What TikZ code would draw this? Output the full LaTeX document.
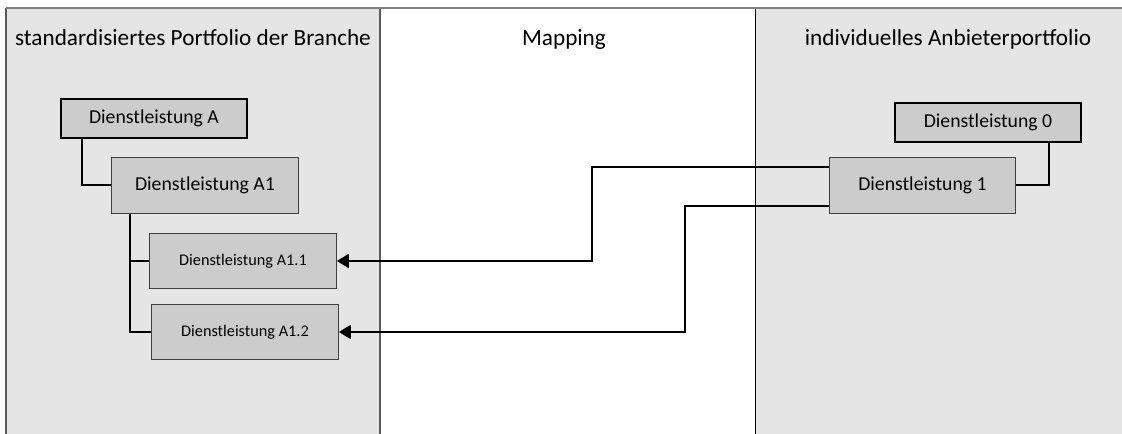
\documentclass[tikz,border=0pt]{standalone}
\usepackage{fontspec}
\setmainfont{Carlito}
\usetikzlibrary{arrows.meta}

\begin{document}
\begin{tikzpicture}[x=0.75pt, y=-0.75pt,
    every node/.style={font=\fontsize{14.8}{17}\selectfont, inner sep=0pt},
    panel/.style={fill=black!10, draw=none},
    head/.style={anchor=base, font=\fontsize{17.4}{20}\selectfont},
    topbox/.style={draw=black, line width=1.5pt, fill=black!20, minimum width=140pt, minimum height=29.5pt},
    subbox/.style={draw=black!75, line width=0.75pt, fill=black!20, minimum width=140pt, minimum height=41.5pt},
    leafbox/.style={subbox, font=\fontsize{12.2}{14}\selectfont},
    link/.style={line width=1.5pt},
    map/.style={line width=1.5pt, -{Triangle[length=9pt,width=10.5pt]}}]
    \useasboundingbox (0,0) rectangle (1122,434);

    % Panels - branch portfolio left, mapping middle, provider right
    \fill[panel] (6,8) rectangle (380,434);
    \fill[panel] (755,8) rectangle (1122,434);
    \draw[black!65, line width=1.5pt] (6,434) -- (6,8);
    \draw[black!65, line width=1.5pt] (380,8) -- (380,434);
    \draw[black, line width=0.75pt] (755,8) -- (755,434);
    \draw[black!50, line width=1.5pt] (6,8) -- (1122,8);

    % Panel headings
    \node[head] (hbranche) at (193,45.5) {standardisiertes Portfolio der Branche};
    \node[head] (hmapping) at (564,45.5) {Mapping};
    \node[head] (hanbieter) at (948,45.5) {individuelles Anbieterportfolio};

    % Standard portfolio - tree of services
    \node[topbox] (dA) at (154,118.5) {Dienstleistung A};
    \node[subbox] (dA1) at (205,185.5) {Dienstleistung A1};
    \node[leafbox] (dA11) at (243,261) {Dienstleistung A1.1};
    \node[leafbox] (dA12) at (245,332) {Dienstleistung A1.2};

    % Provider portfolio
    \node[topbox] (d0) at (988,122.5) {Dienstleistung 0};
    \node[subbox] (d1) at (922.5,185.5) {Dienstleistung 1};

    % Tree edges
    \draw[link] ([xshift=16.5pt]dA.south west) |- (dA1.west);
    \draw[link] ([xshift=14.25pt]dA1.south west) |- (dA11.west);
    \draw[link] ([xshift=14.25pt]dA1.south west) |- (dA12.west);
    \draw[link] ([xshift=-24.75pt]d0.south east) |- (d1.east);

    % Mapping - from provider service to standard services
    \draw[map] ([yshift=-7.5pt]d1.north west) -- ++(-237,0) |- (dA11.east);
    \draw[map] ([yshift=6pt]d1.south west) -- ++(-144,0) |- (dA12.east);
\end{tikzpicture}
\end{document}
